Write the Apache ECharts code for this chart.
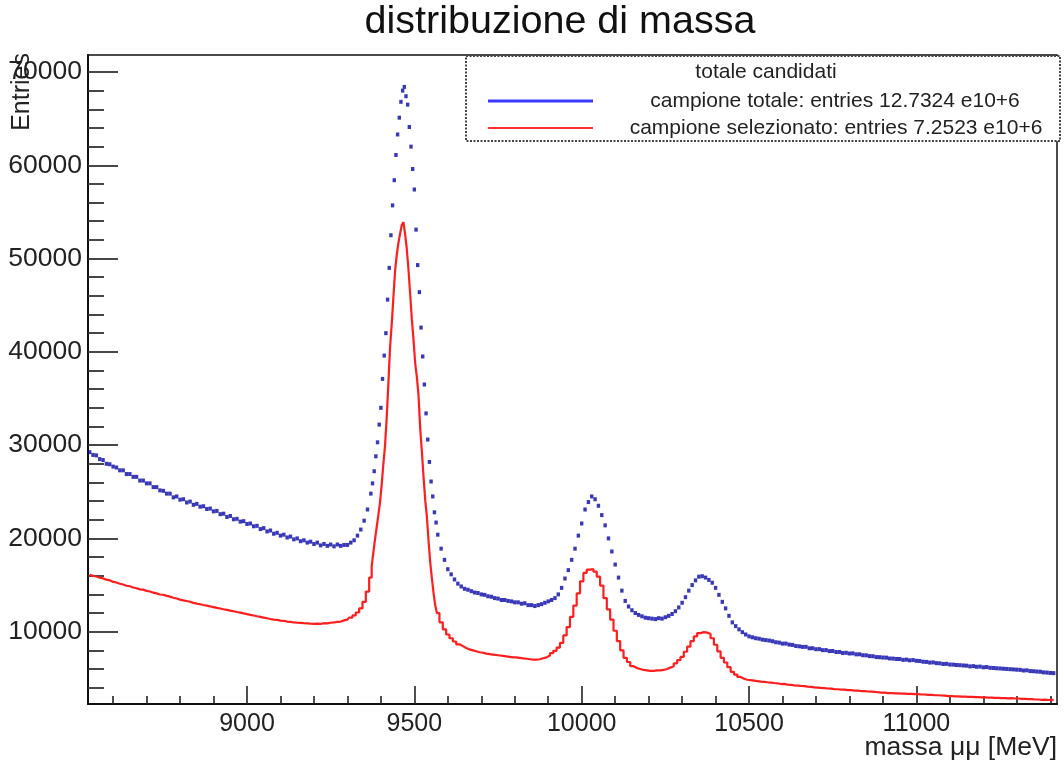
<!DOCTYPE html>
<html><head><meta charset="utf-8">
<script src="https://cdn.jsdelivr.net/npm/echarts@6.0.0/dist/echarts.min.js"></script>
<style>html,body{margin:0;padding:0;background:#fff}#c{width:1064px;height:767px}</style>
</head><body><div id="c"></div>
<script>
// bin centres (MeV)
const massa = [
8530,8540,8550,8560,8570,8580,8590,8600,8610,8620,
8630,8640,8650,8660,8670,8680,8690,8700,8710,8720,
8730,8740,8750,8760,8770,8780,8790,8800,8810,8820,
8830,8840,8850,8860,8870,8880,8890,8900,8910,8920,
8930,8940,8950,8960,8970,8980,8990,9000,9010,9020,
9030,9040,9050,9060,9070,9080,9090,9100,9110,9120,
9130,9140,9150,9160,9170,9180,9190,9200,9210,9220,
9230,9240,9250,9260,9270,9280,9290,9300,9310,9320,
9330,9340,9350,9360,9370,
9375,9380,9385,9390,9395,9400,9405,9410,9415,9420,
9425,9430,9435,9440,9445,9450,9455,9460,9465,9470,
9475,9480,9485,9490,9495,9500,9505,9510,9515,9520,
9525,9530,9535,9540,9545,9550,9555,9560,9565,
9570,9580,9590,9600,9610,9620,9630,9640,9650,9660,
9670,9680,9690,9700,9710,9720,9730,9740,9750,9760,
9770,9780,9790,9800,9810,9820,9830,9840,9850,9860,
9870,9880,9890,9900,9910,9920,9930,9940,9950,9960,
9970,9980,9990,10000,10010,10020,10030,10040,10050,10060,
10070,10080,10090,10100,10110,10120,10130,10140,10150,10160,
10170,10180,10190,10200,10210,10220,10230,10240,10250,10260,
10270,10280,10290,10300,10310,10320,10330,10340,10350,10360,
10370,10380,10390,10400,10410,10420,10430,10440,10450,10460,
10470,10480,10490,10500,10510,10520,10530,10540,10550,10560,
10570,10580,10590,10600,10610,10620,10630,10640,10650,10660,
10670,10680,10690,10700,10710,10720,10730,10740,10750,10760,
10770,10780,10790,10800,10810,10820,10830,10840,10850,10860,
10870,10880,10890,10900,10910,10920,10930,10940,10950,10960,
10970,10980,10990,11000,11010,11020,11030,11040,11050,11060,
11070,11080,11090,11100,11110,11120,11130,11140,11150,11160,
11170,11180,11190,11200,11210,11220,11230,11240,11250,11260,
11270,11280,11290,11300,11310,11320,11330,11340,11350,11360,
11370,11380,11390,11400,11410
];

// campione totale (entries per bin)
const totale = [
29250,28950,28900,28500,28400,28000,27950,27700,27600,27300,
27300,26900,26900,26600,26600,26200,26200,25900,25900,25500,
25500,25150,25100,24800,24800,24400,24500,24150,24200,23850,
23950,23600,23700,23400,23450,23150,23200,22900,22950,22600,
22650,22300,22400,22050,22100,21800,21850,21550,21600,21300,
21350,21000,21100,20750,20850,20500,20600,20300,20400,20100,
20200,19900,20000,19700,19800,19550,19650,19400,19550,19250,
19400,19200,19350,19150,19350,19200,19300,19300,19550,19800,
20300,20950,21900,23100,24800,
25900,27200,28800,30300,32200,34000,37100,39600,42000,45600,
49000,52500,55700,58400,61100,63300,65100,66800,68000,68400,
67400,66500,64100,62000,59600,57400,53100,49300,46400,42600,
39500,36500,33400,30600,28200,26100,24500,22800,21700,
20400,18900,17700,16700,16150,15600,15150,14850,14600,14500,
14350,14200,14150,14000,13950,13800,13750,13600,13550,13400,
13400,13300,13250,13150,13150,13000,13050,12850,12850,12750,
12850,12950,13100,13250,13400,13600,14000,14700,15700,16600,
17700,18900,20300,21600,23100,23900,24500,24200,23500,22500,
21400,20000,18600,17200,15800,14400,13300,12700,12300,12000,
11800,11650,11500,11450,11400,11350,11450,11400,11550,11700,
11900,12200,12600,13100,13700,14400,15000,15500,15900,15950,
15800,15550,15250,14700,13950,13200,12500,11700,11000,10600,
10250,9950,9700,9500,9400,9300,9250,9150,9100,9050,
8980,8870,8830,8720,8730,8620,8580,8470,8430,8370,
8380,8220,8230,8120,8130,8020,8030,7920,7930,7820,
7830,7720,7740,7660,7680,7570,7580,7480,7470,7380,
7370,7280,7270,7230,7220,7130,7120,7080,7070,6980,
7010,6930,6960,6880,6860,6780,6760,6690,6710,6630,
6610,6540,6560,6480,6470,6430,6410,6380,6360,6280,
6310,6240,6260,6180,6210,6130,6110,6080,6060,6030,
6010,5980,5960,5930,5910,5840,5860,5780,5760,5730,
5710,5640,5620,5580,5560
];

// campione selezionato (entries per bin)
const selezionato = [
16100,15980,15920,15790,15710,15580,15510,15340,15270,15140,
15060,14930,14870,14740,14660,14540,14510,14380,14310,14190,
14110,13990,13960,13840,13760,13640,13560,13440,13360,13290,
13210,13090,13010,12940,12860,12790,12710,12640,12560,12490,
12410,12340,12260,12190,12110,12040,11960,11890,11810,11740,
11660,11590,11510,11440,11360,11290,11260,11190,11160,11090,
11060,10990,10960,10940,10910,10890,10860,10840,10860,10840,
10910,10890,10960,10990,11060,11090,11210,11290,11510,11740,
12060,12500,13200,14300,15800,
17000,18500,19900,21200,22500,23900,25800,28000,30000,33000,
36700,40500,43000,45900,48700,50400,51700,52700,53600,53900,
52600,51000,48800,46200,43500,41300,38800,37300,35300,31800,
29300,26600,24100,22300,19700,17400,15700,14100,12800,
12000,11000,10250,9700,9300,8950,8650,8450,8250,8100,
8000,7900,7800,7750,7650,7600,7550,7500,7450,7400,
7350,7300,7250,7250,7200,7150,7100,7050,7000,7000,
7050,7150,7250,7450,7700,7950,8300,8800,9600,10500,
11600,12800,14100,15400,16300,16650,16700,16450,15900,14950,
13600,12400,11300,10100,9000,8000,7200,6750,6300,6100,
6000,5900,5850,5800,5800,5850,5850,5900,6000,6150,
6300,6600,6950,7300,7850,8400,9000,9500,9850,9950,
9900,9750,9300,8600,7900,7200,6700,6200,5700,5400,
5150,4950,4850,4800,4750,4700,4650,4620,4580,4550,
4500,4470,4390,4400,4330,4310,4240,4230,4190,4160,
4120,4090,4040,4010,3970,3960,3910,3890,3840,3830,
3800,3790,3740,3740,3690,3690,3640,3630,3590,3580,
3550,3510,3460,3460,3420,3430,3390,3390,3360,3360,
3340,3330,3310,3300,3270,3270,3230,3230,3190,3190,
3160,3150,3100,3110,3070,3070,3040,3040,3010,3010,
2980,2990,2960,2960,2930,2940,2910,2910,2880,2890,
2860,2870,2840,2840,2800,2800,2770,2770,2730,2730,
2700,2710,2680,2690,2660
];

const xMajorTicks = [9000, 9500, 10000, 10500, 11000];
const xMinorTicks = [8600,8700,8800,8900,9100,9200,9300,9400,9600,9700,9800,9900,
  10100,10200,10300,10400,10600,10700,10800,10900,11100,11200,11300,11400];
const yMajorTicks = [10000, 20000, 30000, 40000, 50000, 60000, 70000];
const yMinorTicks = [4000,6000,8000,12000,14000,16000,18000,22000,24000,26000,28000,
  32000,34000,36000,38000,42000,44000,46000,48000,52000,54000,56000,58000,
  62000,64000,66000,68000];

const titolo = 'distribuzione di massa';
const titoloLegenda = 'totale candidati';
const nomiSerie = ['campione totale: entries 12.7324 e10+6', 'campione selezionato: entries 7.2523 e10+6'];
const titoloX = 'massa μμ [MeV]';
const titoloY = 'Entries';

const X_MIN = 8525, X_MAX = 11420, Y_MIN = 2250, Y_MAX = 71820;
const FONT = "'Liberation Sans', Arial, Helvetica, sans-serif";

const datiTot = massa.map((m, i) => [m, totale[i]]);
const datiSel = massa.map((m, i) => [m, selezionato[i]]);

const chart = echarts.init(document.getElementById('c'), null, {renderer: 'canvas'});

function xAx(major) {
  return {
    type: 'value', min: X_MIN, max: X_MAX, position: 'bottom', gridIndex: 0,
    axisLine: {show: major, onZero: false, lineStyle: {color: '#111', width: 2}},
    axisTick: {show: true, inside: true, length: major ? 18 : 8,
      customValues: major ? xMajorTicks : xMinorTicks,
      lineStyle: {color: '#222', width: 1.6}},
    axisLabel: major ? {show: true, customValues: xMajorTicks, margin: 8,
      formatter: v => String(v), color: '#222', fontSize: 25, fontFamily: FONT} : {show: false},
    splitLine: {show: false}
  };
}
function yAx(major) {
  return {
    type: 'value', min: Y_MIN, max: Y_MAX, position: 'left', gridIndex: 0,
    axisLine: {show: major, onZero: false, lineStyle: {color: '#111', width: 2}},
    axisTick: {show: true, inside: true, length: major ? 30 : 16,
      customValues: major ? yMajorTicks : yMinorTicks,
      lineStyle: {color: '#333', width: 1.8}},
    axisLabel: major ? {show: true, customValues: yMajorTicks, margin: 6,
      formatter: v => String(v), color: '#222', fontSize: 26.5, fontFamily: FONT} : {show: false},
    splitLine: {show: false}
  };
}

chart.setOption({
  animation: false,
  backgroundColor: '#fff',
  grid: {left: 88, right: 7, top: 55, bottom: 63, show: true,
    borderColor: '#111', borderWidth: 1.5, backgroundColor: 'transparent',
    containLabel: false, outerBoundsMode: 'none'},
  xAxis: [xAx(true), xAx(false)],
  yAxis: [yAx(true), yAx(false)],
  series: [
    {name: nomiSerie[0], type: 'scatter', xAxisIndex: 0, yAxisIndex: 0,
     symbol: 'rect', symbolSize: [3.4, 4], data: datiTot,
     itemStyle: {color: '#0606a6'}, silent: true, clip: true, z: 3},
    {name: nomiSerie[1], type: 'line', xAxisIndex: 0, yAxisIndex: 0,
     step: 'middle', showSymbol: false, data: datiSel,
     lineStyle: {color: '#ff1e1e', width: 2.2}, silent: true, clip: true, z: 4}
  ],
  graphic: [
    {type: 'text', x: 560, y: 22, z: 10,
     style: {text: titolo, fontSize: 39.5, fontFamily: FONT, fill: '#111',
       align: 'center', verticalAlign: 'middle'}},
    {type: 'text', x: 22, y: 53, rotation: Math.PI / 2, z: 10,
     style: {text: titoloY, fontSize: 25, fontFamily: FONT, fill: '#222',
       align: 'right', verticalAlign: 'middle'}},
    {type: 'text', x: 1057, y: 748, z: 10,
     style: {text: titoloX, fontSize: 26.5, fontFamily: FONT, fill: '#222',
       align: 'right', verticalAlign: 'middle'}},
    {type: 'rect', z: 10, shape: {x: 466, y: 56, width: 594, height: 85},
     style: {fill: '#fff', stroke: '#444', lineWidth: 2, lineDash: [2, 1.5]}},
    {type: 'text', x: 766, y: 72, z: 11,
     style: {text: titoloLegenda, fontSize: 21, fontFamily: FONT, fill: '#222',
       align: 'center', verticalAlign: 'middle'}},
    {type: 'line', z: 11, shape: {x1: 488, y1: 101, x2: 593, y2: 101},
     style: {stroke: '#3838ff', lineWidth: 3}},
    {type: 'text', x: 835, y: 101, z: 11,
     style: {text: nomiSerie[0], fontSize: 21, fontFamily: FONT, fill: '#222',
       align: 'center', verticalAlign: 'middle'}},
    {type: 'line', z: 11, shape: {x1: 488, y1: 128, x2: 593, y2: 128},
     style: {stroke: '#ff2e2e', lineWidth: 2.2}},
    {type: 'text', x: 836, y: 128, z: 11,
     style: {text: nomiSerie[1], fontSize: 21, fontFamily: FONT, fill: '#222',
       align: 'center', verticalAlign: 'middle'}}
  ]
});
</script></body></html>
